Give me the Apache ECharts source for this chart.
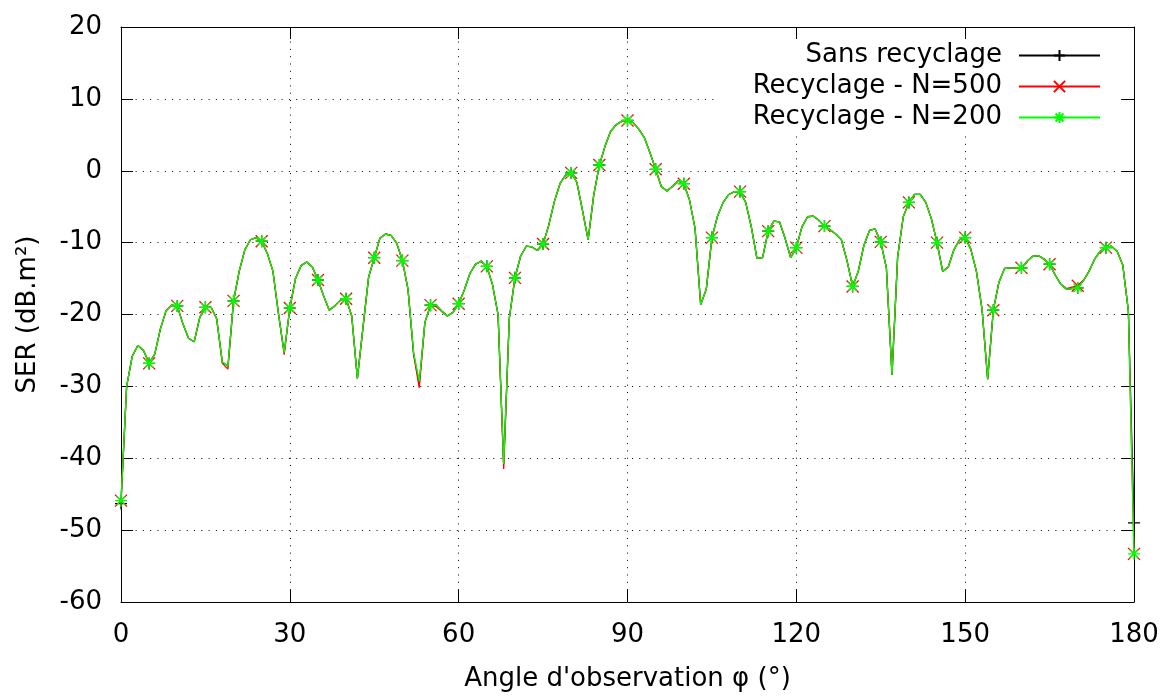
<!DOCTYPE html>
<html>
<head>
<meta charset="utf-8">
<script src="https://cdn.jsdelivr.net/npm/echarts@6/dist/echarts.min.js"></script>
<style>
html,body{margin:0;padding:0;background:#fff;overflow:hidden;}
#chart{width:1164px;height:697px;}
</style>
</head>
<body>
<div id="chart"></div>
<script>
// Angle index = degrees (0..180, step 1)
const seriesNames = ['Sans recyclage', 'Recyclage - N=500', 'Recyclage - N=200'];
const xTicks = [0, 30, 60, 90, 120, 150, 180];
const yTicks = [-60, -50, -40, -30, -20, -10, 0, 10, 20];

const sansRecyclage = [
-46.3, -30.0, -25.8, -24.3, -25.0, -26.8, -25.5, -22.0, -19.5, -18.7,
-18.8, -21.3, -23.3, -23.8, -20.4, -19.0, -19.0, -20.6, -26.6, -27.2,
-18.1, -14.0, -11.0, -9.6, -9.3, -9.8, -11.5, -14.0, -20.0, -25.3,
-19.1, -15.0, -13.2, -12.7, -13.4, -15.2, -17.4, -19.4, -18.8, -18.0,
-17.8, -20.2, -28.9, -21.8, -14.8, -12.1, -9.4, -8.8, -9.0, -10.1,
-12.5, -16.5, -25.5, -29.6, -21.1, -18.7, -18.7, -19.5, -20.2, -19.7,
-18.5, -16.6, -14.3, -13.0, -12.6, -13.3, -15.8, -20.0, -40.8, -20.5,
-14.9, -11.9, -10.5, -10.6, -11.1, -10.2, -7.6, -4.3, -1.8, -0.6,
-0.3, -1.6, -5.5, -9.6, -3.4, 0.8, 3.4, 5.5, 6.4, 6.9,
7.0, 6.7, 5.8, 4.6, 2.5, 0.2, -2.2, -2.8, -2.2, -1.4,
-1.8, -4.0, -8.0, -18.6, -16.5, -9.3, -6.3, -4.4, -3.3, -2.9,
-2.9, -4.4, -7.8, -12.2, -12.1, -8.4, -7.0, -7.1, -9.4, -12.1,
-10.7, -7.8, -6.4, -6.3, -6.9, -7.7, -8.2, -8.8, -9.6, -12.5,
-16.1, -14.0, -10.4, -8.3, -8.1, -9.9, -13.5, -28.4, -12.0, -6.4,
-4.4, -3.3, -3.3, -4.4, -6.7, -10.0, -14.0, -13.4, -11.0, -9.6,
-9.3, -10.9, -14.0, -19.3, -29.0, -19.4, -15.5, -13.6, -13.5, -13.5,
-13.5, -12.6, -11.9, -11.8, -12.3, -13.0, -14.5, -15.8, -16.5, -16.4,
-16.3, -15.3, -14.0, -12.3, -11.2, -10.7, -10.5, -11.2, -13.1, -19.5,
-49.0
];

const recyclageN500 = [
-45.9, -30.0, -25.8, -24.3, -25.0, -26.8, -25.5, -22.0, -19.5, -18.7,
-18.8, -21.3, -23.3, -23.8, -20.4, -19.0, -19.0, -20.6, -26.8, -27.6,
-18.1, -14.0, -11.0, -9.6, -9.3, -9.8, -11.5, -14.0, -20.0, -25.6,
-19.1, -15.0, -13.2, -12.7, -13.4, -15.2, -17.4, -19.4, -18.8, -18.0,
-17.8, -20.2, -28.9, -21.8, -14.8, -12.1, -9.4, -8.8, -9.0, -10.1,
-12.5, -16.5, -25.6, -30.2, -21.1, -18.7, -18.9, -19.6, -20.2, -19.7,
-18.5, -16.6, -14.3, -13.0, -12.6, -13.3, -15.8, -20.0, -41.5, -20.5,
-14.9, -11.9, -10.5, -10.6, -11.1, -10.2, -7.6, -4.3, -1.8, -0.6,
-0.3, -1.6, -5.5, -9.6, -3.4, 0.8, 3.4, 5.5, 6.4, 6.9,
7.0, 6.7, 5.8, 4.6, 2.5, 0.2, -2.2, -2.8, -2.2, -1.4,
-1.8, -4.0, -8.0, -18.6, -16.5, -9.3, -6.3, -4.4, -3.3, -2.9,
-2.9, -4.4, -7.8, -12.2, -12.1, -8.4, -7.0, -7.1, -9.4, -12.1,
-10.7, -7.8, -6.4, -6.3, -6.9, -7.7, -8.2, -8.8, -9.6, -12.5,
-16.1, -14.0, -10.4, -8.3, -8.1, -9.9, -13.5, -28.4, -12.0, -6.4,
-4.4, -3.3, -3.3, -4.4, -6.7, -10.0, -14.0, -13.4, -11.0, -9.6,
-9.3, -10.9, -14.0, -19.3, -29.0, -19.4, -15.5, -13.6, -13.5, -13.5,
-13.5, -12.6, -11.9, -11.8, -12.3, -13.0, -14.5, -15.8, -16.4, -16.2,
-16.0, -15.3, -14.0, -12.3, -11.2, -10.7, -10.5, -11.2, -13.1, -19.5,
-53.3
];

const recyclageN200 = [
-45.9, -30.0, -25.8, -24.3, -25.0, -26.8, -25.5, -22.0, -19.5, -18.7,
-18.8, -21.3, -23.3, -23.8, -20.4, -19.0, -19.0, -20.6, -26.6, -27.2,
-18.1, -14.0, -11.0, -9.6, -9.3, -9.8, -11.5, -14.0, -20.0, -25.3,
-19.1, -15.0, -13.2, -12.7, -13.4, -15.2, -17.4, -19.4, -18.8, -18.0,
-17.8, -20.2, -28.9, -21.8, -14.8, -12.1, -9.4, -8.8, -9.0, -10.1,
-12.5, -16.5, -25.3, -29.3, -21.1, -18.7, -18.7, -19.5, -20.2, -19.7,
-18.5, -16.6, -14.3, -13.0, -12.6, -13.3, -15.8, -20.0, -40.8, -20.5,
-14.9, -11.9, -10.5, -10.6, -11.1, -10.2, -7.6, -4.3, -1.8, -0.6,
-0.3, -1.6, -5.5, -9.6, -3.4, 0.8, 3.4, 5.5, 6.4, 6.9,
7.0, 6.7, 5.8, 4.6, 2.5, 0.2, -2.2, -2.8, -2.2, -1.4,
-1.8, -4.0, -8.0, -18.6, -16.5, -9.3, -6.3, -4.4, -3.3, -2.9,
-2.9, -4.4, -7.8, -12.2, -12.1, -8.4, -7.0, -7.1, -9.4, -12.1,
-10.7, -7.8, -6.4, -6.3, -6.9, -7.7, -8.2, -8.8, -9.6, -12.5,
-16.1, -14.0, -10.4, -8.3, -8.1, -9.9, -13.5, -28.4, -12.0, -6.4,
-4.4, -3.3, -3.3, -4.4, -6.7, -10.0, -14.0, -13.4, -11.0, -9.6,
-9.3, -10.9, -14.0, -19.3, -29.0, -19.4, -15.5, -13.6, -13.5, -13.5,
-13.5, -12.6, -11.9, -11.8, -12.3, -13.0, -14.5, -15.8, -16.5, -16.4,
-16.3, -15.3, -14.0, -12.3, -11.2, -10.7, -10.5, -11.2, -13.1, -19.5,
-53.3
];

const FONT = 'DejaVu Sans';
const FS = 26;
const colors = ['#000000', '#ff0000', '#00ff00'];
const symbols = [
  'path://M5,0L5,10M0,5L10,5',
  'path://M0,0L10,10M10,0L0,10',
  'path://M5,0L5,10M0,5L10,5M1.5,1.5L8.5,8.5M8.5,1.5L1.5,8.5'
];
const allData = [sansRecyclage, recyclageN500, recyclageN200];

const chart = echarts.init(document.getElementById('chart'), null, {renderer: 'canvas', width: 1164, height: 697});

function toPairs(arr) { return arr.map((v, i) => [i, v]); }

const series = allData.map((arr, k) => ({
  name: seriesNames[k],
  type: 'line',
  data: toPairs(arr),
  xAxisIndex: 0, yAxisIndex: 0,
  symbol: symbols[k],
  showAllSymbol: true,
  symbolSize: (v, p) => (p.dataIndex % 5 === 0 ? 12 : 0),
  lineStyle: {color: colors[k], width: 1.3},
  itemStyle: {color: 'rgba(0,0,0,0)', borderColor: colors[k], borderWidth: 1.3},
  emphasis: {disabled: true},
  animation: false,
  z: 2 + k
}));

const legendCenters = [54, 85, 116];
const legends = seriesNames.map((n, k) => ({
  data: [n],
  right: 63,
  top: legendCenters[k] - 11.5,
  orient: 'horizontal',
  align: 'right',
  itemWidth: 81,
  itemHeight: 14,
  padding: 0,
  selectedMode: false,
  textStyle: {fontSize: FS, fontFamily: FONT, color: '#000', padding: [0, 12, 0, 0]}
}));

const gridLine = {show: true, lineStyle: {color: '#000', width: 1, type: [1, 6.3]}};
const label = {fontSize: FS, fontFamily: FONT, color: '#000'};

chart.setOption({
  backgroundColor: '#fff',
  animation: false,
  grid: {left: 121, right: 30, top: 27, bottom: 90, containLabel: false},
  graphic: [{
    type: 'rect', z: 1,
    shape: {x: 717, y: 40, width: 400, height: 93},
    style: {fill: '#fff'}
  }],
  legend: legends,
  xAxis: [{
    type: 'value', min: xTicks[0], max: xTicks[xTicks.length - 1], interval: 30,
    position: 'bottom',
    axisLine: {show: true, onZero: false, lineStyle: {color: '#000', width: 1}},
    axisTick: {show: true, inside: true, length: 12, lineStyle: {color: '#000'}},
    axisLabel: Object.assign({margin: 20}, label),
    splitLine: gridLine,
    name: "Angle d'observation φ (°)",
    nameLocation: 'middle', nameGap: 64,
    nameTextStyle: {fontSize: FS, fontFamily: FONT, color: '#000'}
  }, {
    type: 'value', min: 0, max: 180, interval: 30,
    position: 'top',
    axisLine: {show: true, onZero: false, lineStyle: {color: '#000', width: 1}},
    axisTick: {show: true, inside: true, length: 12, lineStyle: {color: '#000'}},
    axisLabel: {show: false},
    splitLine: {show: false}
  }],
  yAxis: [{
    type: 'value', min: yTicks[0], max: yTicks[yTicks.length - 1], interval: 10,
    position: 'left',
    axisLine: {show: true, onZero: false, lineStyle: {color: '#000', width: 1}},
    axisTick: {show: true, inside: true, length: 12, lineStyle: {color: '#000'}},
    axisLabel: Object.assign({margin: 19}, label),
    splitLine: gridLine,
    name: 'SER (dB.m²)',
    nameLocation: 'middle', nameGap: 80,
    nameTextStyle: {fontSize: FS, fontFamily: FONT, color: '#000'}
  }, {
    type: 'value', min: -60, max: 20, interval: 10,
    position: 'right',
    axisLine: {show: true, onZero: false, lineStyle: {color: '#000', width: 1}},
    axisTick: {show: true, inside: true, length: 12, lineStyle: {color: '#000'}},
    axisLabel: {show: false},
    splitLine: {show: false}
  }],
  series: series
});
</script>
</body>
</html>
